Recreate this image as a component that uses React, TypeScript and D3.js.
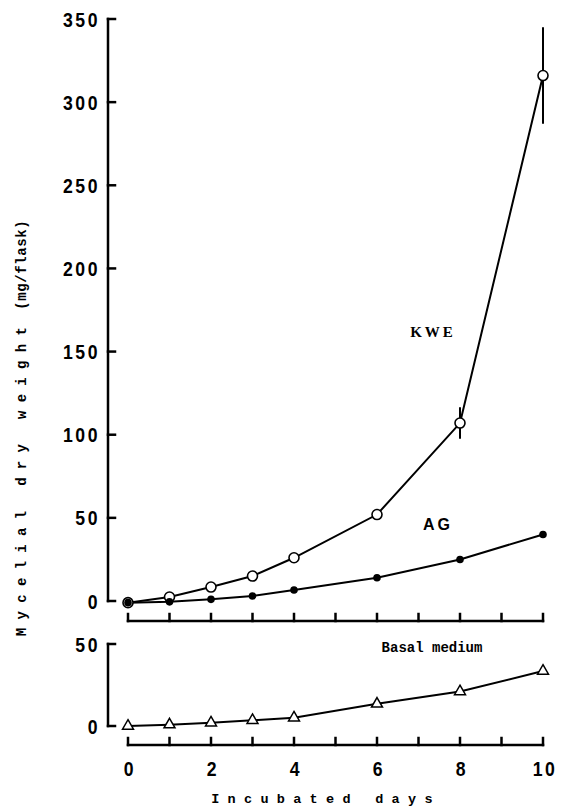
import React from "react";
import * as d3 from "d3";

// Incubation days sampled
const days = [0, 1, 2, 3, 4, 6, 8, 10];
// Mycelial dry weight (mg/flask)
const kwe = [-1, 2.4, 8.4, 15, 26, 52, 107, 316];
const kweErr = [0, 0, 0, 0, 0, 0, 9.5, 29];
const ag = [-1, -0.5, 1, 3, 6.6, 14, 25, 40];
const basal = [0, 0.8, 2, 3.5, 5, 13.5, 21, 33.5];

const topTicks = [0, 50, 100, 150, 200, 250, 300, 350];
const bottomTicks = [0, 50];
const dayTicks = d3.range(0, 11);
const dayLabels = [0, 2, 4, 6, 8, 10];

const W = 562;
const H = 809;

export default function App() {
  const x = d3.scaleLinear().domain([0, 10]).range([128, 543]);
  const yTop = d3.scaleLinear().domain([0, 350]).range([601, 19]);
  const yBot = d3.scaleLinear().domain([0, 50]).range([726, 644]);
  const axisX = 108;
  const topAxisY = 621;
  const botAxisY = 745;

  const lineTop = (vals: number[]) =>
    d3.line<number>().x((_, i) => x(days[i])).y((v) => yTop(v))(vals) || "";
  const lineBot = d3.line<number>().x((_, i) => x(days[i])).y((v) => yBot(v))(basal) || "";
  const tri = d3.symbol().type(d3.symbolTriangle).size(52)() || "";

  const tickFont = {
    fontFamily: "'Liberation Sans', Arial, sans-serif",
    fontWeight: 700,
    fontSize: 21,
    letterSpacing: 3,
  } as React.CSSProperties;
  const mono = {
    fontFamily: "'Liberation Mono', 'DejaVu Sans Mono', monospace",
    fontWeight: 700,
  } as React.CSSProperties;

  // condensed numerals: horizontally squeezed bold sans
  const Num = ({ x: tx, y: ty, anchor, v }: { x: number; y: number; anchor: string; v: number }) => (
    <text
      transform={`translate(${tx},${ty}) scale(0.84,1)`}
      dy="0.36em"
      textAnchor={anchor}
      style={tickFont}
      fill="#000"
    >
      {v}
    </text>
  );

  return (
    <svg
      width={W}
      height={H}
      viewBox={`0 0 ${W} ${H}`}
      style={{ position: "absolute", left: 0, top: 0, background: "#fff" }}
    >
      <rect width={W} height={H} fill="#fff" />
      <g stroke="#000" strokeWidth={2.5} fill="none" strokeLinecap="square">
        {/* upper y axis */}
        <line x1={axisX} x2={axisX} y1={yTop(350)} y2={yTop(0)} />
        {topTicks.map((t) => (
          <line key={"yt" + t} x1={axisX} x2={axisX + 7} y1={yTop(t)} y2={yTop(t)} />
        ))}
        {/* lower y axis */}
        <line x1={axisX} x2={axisX} y1={yBot(50)} y2={yBot(0)} />
        {bottomTicks.map((t) => (
          <line key={"yb" + t} x1={axisX} x2={axisX + 7} y1={yBot(t)} y2={yBot(t)} />
        ))}
        {/* day axes */}
        {[topAxisY, botAxisY].map((ay) => (
          <g key={"xa" + ay}>
            <line x1={x(0)} x2={x(10)} y1={ay} y2={ay} />
            {dayTicks.map((d) => (
              <line key={d} x1={x(d)} x2={x(d)} y1={ay} y2={ay - 7} />
            ))}
          </g>
        ))}
      </g>

      {/* tick labels */}
      {topTicks.map((t) => (
        <Num key={"lt" + t} x={100} y={yTop(t)} anchor="end" v={t} />
      ))}
      {bottomTicks.map((t) => (
        <Num key={"lb" + t} x={100} y={yBot(t)} anchor="end" v={t} />
      ))}
      {dayLabels.map((d) => (
        <Num key={"ld" + d} x={x(d) + 2} y={768} anchor="middle" v={d} />
      ))}

      {/* series lines */}
      <g stroke="#000" strokeWidth={2} fill="none">
        <path d={lineTop(kwe)} />
        <path d={lineTop(ag)} />
        <path d={lineBot} />
        {days.map((d, i) =>
          kweErr[i] > 0 ? (
            <line
              key={"e" + d}
              x1={x(d)}
              x2={x(d)}
              y1={yTop(kwe[i] - kweErr[i])}
              y2={yTop(kwe[i] + kweErr[i])}
            />
          ) : null
        )}
      </g>

      {/* markers */}
      {days.map((d, i) => (
        <circle key={"k" + d} cx={x(d)} cy={yTop(kwe[i])} r={5} fill="#fff" stroke="#000" strokeWidth={1.6} />
      ))}
      {days.map((d, i) => (
        <circle key={"a" + d} cx={x(d)} cy={yTop(ag[i])} r={3.8} fill="#000" />
      ))}
      {days.map((d, i) => (
        <path
          key={"b" + d}
          d={tri}
          transform={`translate(${x(d)},${yBot(basal[i])})`}
          fill="#fff"
          stroke="#000"
          strokeWidth={1.5}
        />
      ))}

      {/* series labels */}
      <text x={433} y={332} dy="0.36em" textAnchor="middle" fill="#000"
        style={{ fontFamily: "'Liberation Serif', 'DejaVu Serif', serif", fontWeight: 700, fontSize: 15, letterSpacing: 3 }}>
        KWE
      </text>
      <text x={438} y={524} dy="0.36em" textAnchor="middle" fill="#000"
        style={{ fontFamily: "'Liberation Sans', Arial, sans-serif", fontWeight: 700, fontSize: 16, letterSpacing: 3 }}>
        AG
      </text>
      <text x={432} y={647} dy="0.36em" textAnchor="middle" fill="#000"
        style={{ ...mono, fontSize: 14 }}>
        Basal medium
      </text>

      {/* axis titles */}
      <text x={326} y={798} dy="0.36em" textAnchor="middle" fill="#000"
        style={{ ...mono, fontSize: 13.5, letterSpacing: 8.3 }}>
        Incubated days
      </text>
      <text
        transform={`translate(21,${428}) rotate(-90)`}
        dy="0.36em"
        textAnchor="middle"
        fill="#000"
        style={{ ...mono, fontSize: 14 }}
      >
        <tspan style={{ letterSpacing: 8.3 }}>Mycelial dry weight</tspan>
        <tspan style={{ letterSpacing: 0.6 }}> (mg/flask)</tspan>
      </text>
    </svg>
  );
}
